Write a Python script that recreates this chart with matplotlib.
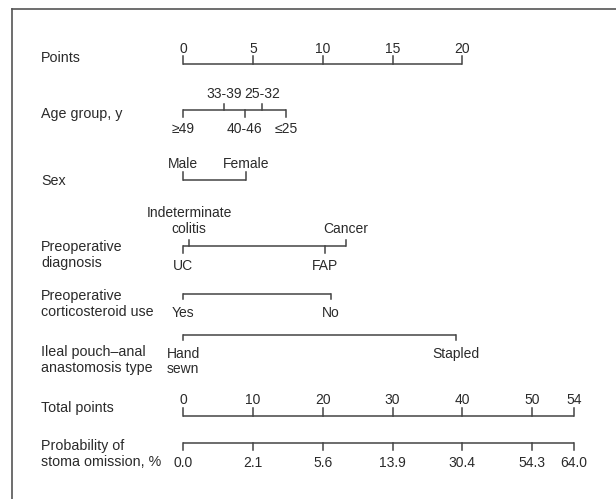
import matplotlib
matplotlib.use("Agg")
import matplotlib.pyplot as plt

# nomogram values (in "Points" units unless noted)
points_ticks = [0, 5, 10, 15, 20]

age_labels = ["\u226549", "33-39", "40-46", "25-32", "\u226425"]
age_points = [0, 2.94, 4.40, 5.66, 7.36]
age_side = ["down", "up", "down", "up", "down"]

sex_labels = ["Male", "Female"]
sex_points = [0, 4.5]

diag_labels = ["UC", "Indeterminate\ncolitis", "FAP", "Cancer"]
diag_points = [0, 0.41, 10.18, 11.66]
diag_side = ["down", "up", "down", "up"]

steroid_labels = ["Yes", "No"]
steroid_points = [0, 10.59]

ipaa_labels = ["Hand\nsewn", "Stapled"]
ipaa_points = [0, 19.53]

total_ticks = [0, 10, 20, 30, 40, 50, 54]
prob_labels = ["0.0", "2.1", "5.6", "13.9", "30.4", "54.3", "64.0"]

row_names = ["Points", "Age group, y", "Sex", "Preoperative\ndiagnosis",
             "Preoperative\ncorticosteroid use", "Ileal pouch\u2013anal\nanastomosis type",
             "Total points", "Probability of\nstoma omission, %"]

plt.rcParams['font.family'] = ['Liberation Sans', 'DejaVu Sans']
LINE = "#444444"
TXT = "#2a2a2a"
FS = 10.3      # row labels
FS_T = 10.0    # tick labels

fig = plt.figure(figsize=(6.16, 4.99), dpi=100)
ax = fig.add_axes([0, 0, 1, 1])
px_per_pt = 13.95
x0 = 183.3
ax.set_xlim(-x0 / px_per_pt, (616 - x0) / px_per_pt)
ax.set_ylim(499, 0)
ax.axis("off")

# frame (top and left edges only visible)
fx = (12 - x0) / px_per_pt
ax.plot([fx, 40], [9, 9], color="#555555", lw=1.2, clip_on=False)
ax.plot([fx, fx], [9, 520], color="#555555", lw=1.2, clip_on=False)


def scale(y, xs, labels, sides, tick_up=6.5, tick_dn=6.5, gap_up=2, gap_dn=3):
    ax.plot([min(xs), max(xs)], [y, y], color=LINE, lw=1.1, solid_capstyle="butt")
    for x, lab, s in zip(xs, labels, sides):
        if s == "up":
            ax.plot([x, x], [y, y - tick_up], color=LINE, lw=1.1)
            ax.text(x, y - tick_up - gap_up, lab, ha="center", va="bottom",
                    fontsize=FS_T, color=TXT, linespacing=1.22)
        else:
            ax.plot([x, x], [y, y + tick_dn], color=LINE, lw=1.1)
            ax.text(x, y + tick_dn + gap_dn, lab, ha="center", va="top",
                    fontsize=FS_T, color=TXT, linespacing=1.05)


def row_label(y, s):
    ax.text((41 - x0) / px_per_pt, y, s, ha="left", va="center",
            fontsize=FS, color=TXT, linespacing=1.18)


# Points
scale(63.5, points_ticks, [str(v) for v in points_ticks], ["up"] * 5, tick_up=8, gap_up=-0.5)
row_label(57.5, row_names[0])

# Age
scale(110, age_points, age_labels, age_side, gap_up=2.5, gap_dn=5.5)
row_label(113.5, row_names[1])

# Sex
scale(180, sex_points, sex_labels, ["up", "up"], tick_up=8, gap_up=0.5)
row_label(181, row_names[2])

# Diagnosis
scale(246, diag_points, diag_labels, diag_side, gap_up=3.5, gap_dn=6.5)
row_label(255, row_names[3])

# Corticosteroid
scale(294, steroid_points, steroid_labels, ["down", "down"], tick_dn=5, gap_dn=7)
row_label(304, row_names[4])

# IPAA type
scale(335, ipaa_points, ipaa_labels, ["down", "down"], tick_dn=5, gap_dn=7)
row_label(360, row_names[5])

# Total points (half the width of the Points scale; last tick sits at the axis end)
tp_scale = 0.5
tp_pos = [v * tp_scale for v in total_ticks[:-1]] + [28]
scale(416, tp_pos, [str(v) for v in total_ticks], ["up"] * 7, tick_up=8, gap_up=0.5)
row_label(408, row_names[6])

# Probability
scale(443, tp_pos, prob_labels, ["down"] * 7, tick_dn=7, gap_dn=6)
row_label(454, row_names[7])

fig.savefig("out.png", dpi=100)
